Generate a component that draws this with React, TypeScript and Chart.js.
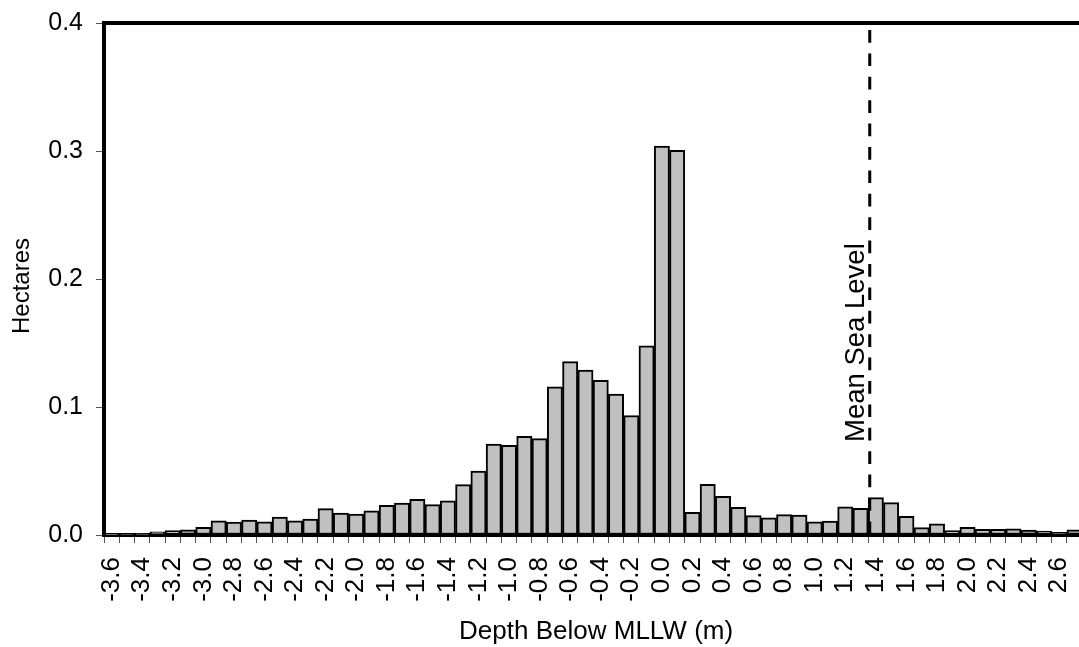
import React, { useEffect, useRef } from 'react';
import { Chart, registerables } from 'chart.js';

Chart.register(...registerables);

// ---- data ----
const DEPTHS: string[] = [
  '-3.6', '-3.5', '-3.4', '-3.3', '-3.2', '-3.1', '-3.0', '-2.9', '-2.8', '-2.7',
  '-2.6', '-2.5', '-2.4', '-2.3', '-2.2', '-2.1', '-2.0', '-1.9', '-1.8', '-1.7',
  '-1.6', '-1.5', '-1.4', '-1.3', '-1.2', '-1.1', '-1.0', '-0.9', '-0.8', '-0.7',
  '-0.6', '-0.5', '-0.4', '-0.3', '-0.2', '-0.1', '0.0', '0.1', '0.2', '0.3',
  '0.4', '0.5', '0.6', '0.7', '0.8', '0.9', '1.0', '1.1', '1.2', '1.3',
  '1.4', '1.5', '1.6', '1.7', '1.8', '1.9', '2.0', '2.1', '2.2', '2.3',
  '2.4', '2.5', '2.6', '2.7',
];

const HECTARES: number[] = [
  0.0005, 0.0008, 0.001, 0.0025, 0.0034, 0.004, 0.006, 0.011, 0.010, 0.0117,
  0.0102, 0.014, 0.011, 0.0125, 0.0206, 0.0172, 0.0164, 0.0188, 0.0232, 0.025,
  0.0279, 0.0237, 0.0266, 0.0393, 0.050, 0.0711, 0.070, 0.0771, 0.0753, 0.1157,
  0.1354, 0.1289, 0.1208, 0.110, 0.0932, 0.1477, 0.3039, 0.3005, 0.0177, 0.0396,
  0.0302, 0.0216, 0.0151, 0.0135, 0.0159, 0.0156, 0.0102, 0.0109, 0.0221, 0.0208,
  0.0292, 0.0253, 0.0146, 0.0057, 0.0088, 0.0034, 0.006, 0.0044, 0.0044, 0.0049,
  0.0039, 0.0031, 0.002, 0.004,
];

const Y_MIN = 0;
const Y_MAX = 0.4;
const Y_STEP = 0.1;

const MEAN_SEA_LEVEL = 1.36;
const MSL_LABEL = 'Mean Sea Level';
const X_TITLE = 'Depth Below MLLW (m)';
const Y_TITLE = 'Hectares';

const FONT = '"Liberation Sans", Arial, sans-serif';

const decorPlugin = {
  id: 'decor',
  afterDatasetsDraw(chart: any) {
    const { ctx, chartArea } = chart;
    const xs = chart.scales.x;
    // mean sea level dashed line
    const first = parseFloat(DEPTHS[0]);
    const step = parseFloat(DEPTHS[1]) - first;
    const pos = (MEAN_SEA_LEVEL - first) / step;
    const i0 = Math.floor(pos);
    const p0 = xs.getPixelForValue(i0);
    const p1 = xs.getPixelForValue(i0 + 1);
    const lx = p0 + (pos - i0) * (p1 - p0);
    ctx.save();
    ctx.strokeStyle = '#000';
    ctx.lineWidth = 3;
    ctx.setLineDash([12.7, 10.7]);
    ctx.lineDashOffset = 16.4;
    ctx.beginPath();
    ctx.moveTo(lx, chartArea.top);
    ctx.lineTo(lx, chartArea.bottom);
    ctx.stroke();
    ctx.restore();

    ctx.save();
    ctx.fillStyle = '#000';
    ctx.font = `27.5px ${FONT}`;
    ctx.translate(lx - 6, chartArea.bottom - 93);
    ctx.rotate(-Math.PI / 2);
    ctx.textAlign = 'left';
    ctx.textBaseline = 'alphabetic';
    ctx.fillText(MSL_LABEL, 0, 0);
    ctx.restore();
  },
  afterDraw(chart: any) {
    const { ctx, chartArea } = chart;
    ctx.save();
    // top frame line
    ctx.strokeStyle = '#000';
    ctx.lineWidth = 4;
    ctx.beginPath();
    ctx.moveTo(chartArea.left - 2, chartArea.top);
    ctx.lineTo(chartArea.right + 2, chartArea.top);
    ctx.stroke();
    // axis titles
    ctx.fillStyle = '#000';
    ctx.font = `26px ${FONT}`;
    ctx.textAlign = 'center';
    ctx.textBaseline = 'alphabetic';
    ctx.fillText(X_TITLE, (chartArea.left + chartArea.right) / 2 + 3, 639);
    ctx.font = `24px ${FONT}`;
    ctx.translate(22, (chartArea.top + chartArea.bottom) / 2 + 7);
    ctx.rotate(-Math.PI / 2);
    ctx.textBaseline = 'middle';
    ctx.fillText(Y_TITLE, 0, 0);
    ctx.restore();
  },
};

export default function App() {
  const ref = useRef<HTMLCanvasElement | null>(null);

  useEffect(() => {
    if (!ref.current) return;
    const chart = new Chart(ref.current, {
      type: 'bar',
      data: {
        labels: DEPTHS,
        datasets: [
          {
            data: HECTARES,
            backgroundColor: '#C0C0C0',
            borderColor: '#000000',
            borderWidth: 2,
            borderSkipped: false,
            categoryPercentage: 1,
            barPercentage: 1,
          },
        ],
      },
      options: {
        responsive: false,
        animation: false,
        devicePixelRatio: 1,
        layout: { padding: { top: 23, right: 32.3, left: 0, bottom: 0 } },
        plugins: {
          legend: { display: false },
          tooltip: { enabled: false },
          title: { display: false },
        },
        scales: {
          x: {
            type: 'category',
            offset: true,
            z: 1,
            grid: {
              display: true,
              offset: true,
              drawOnChartArea: false,
              drawTicks: true,
              tickLength: 8,
              color: '#555',
              lineWidth: 1,
            },
            border: { display: true, width: 4, color: '#000' },
            ticks: {
              autoSkip: false,
              maxRotation: 90,
              minRotation: 90,
              padding: 14,
              color: '#000',
              font: { family: FONT, size: 26 },
              callback: (_v: any, i: number) => (i % 2 === 0 ? DEPTHS[i] : ''),
            },
            afterFit: (s: any) => {
              s.height = 112;
            },
          },
          y: {
            min: Y_MIN,
            max: Y_MAX,
            z: 1,
            grid: {
              display: true,
              drawOnChartArea: false,
              drawTicks: true,
              tickLength: 8,
              color: '#555',
              lineWidth: 1,
            },
            border: { display: true, width: 4, color: '#000' },
            ticks: {
              stepSize: Y_STEP,
              padding: 13,
              color: '#000',
              font: { family: FONT, size: 25, lineHeight: 0.4 },
              callback: (v: any) => Number(v).toFixed(1),
            },
            afterFit: (s: any) => {
              s.width = 104;
            },
          },
        },
      },
      plugins: [decorPlugin],
    });
    return () => chart.destroy();
  }, []);

  return (
    <div
      style={{
        position: 'absolute',
        left: 0,
        top: 0,
        width: 1079,
        height: 647,
        overflow: 'hidden',
        background: '#fff',
      }}
    >
      <canvas ref={ref} width={1120} height={647} style={{ width: 1120, height: 647, display: 'block' }} />
    </div>
  );
}
